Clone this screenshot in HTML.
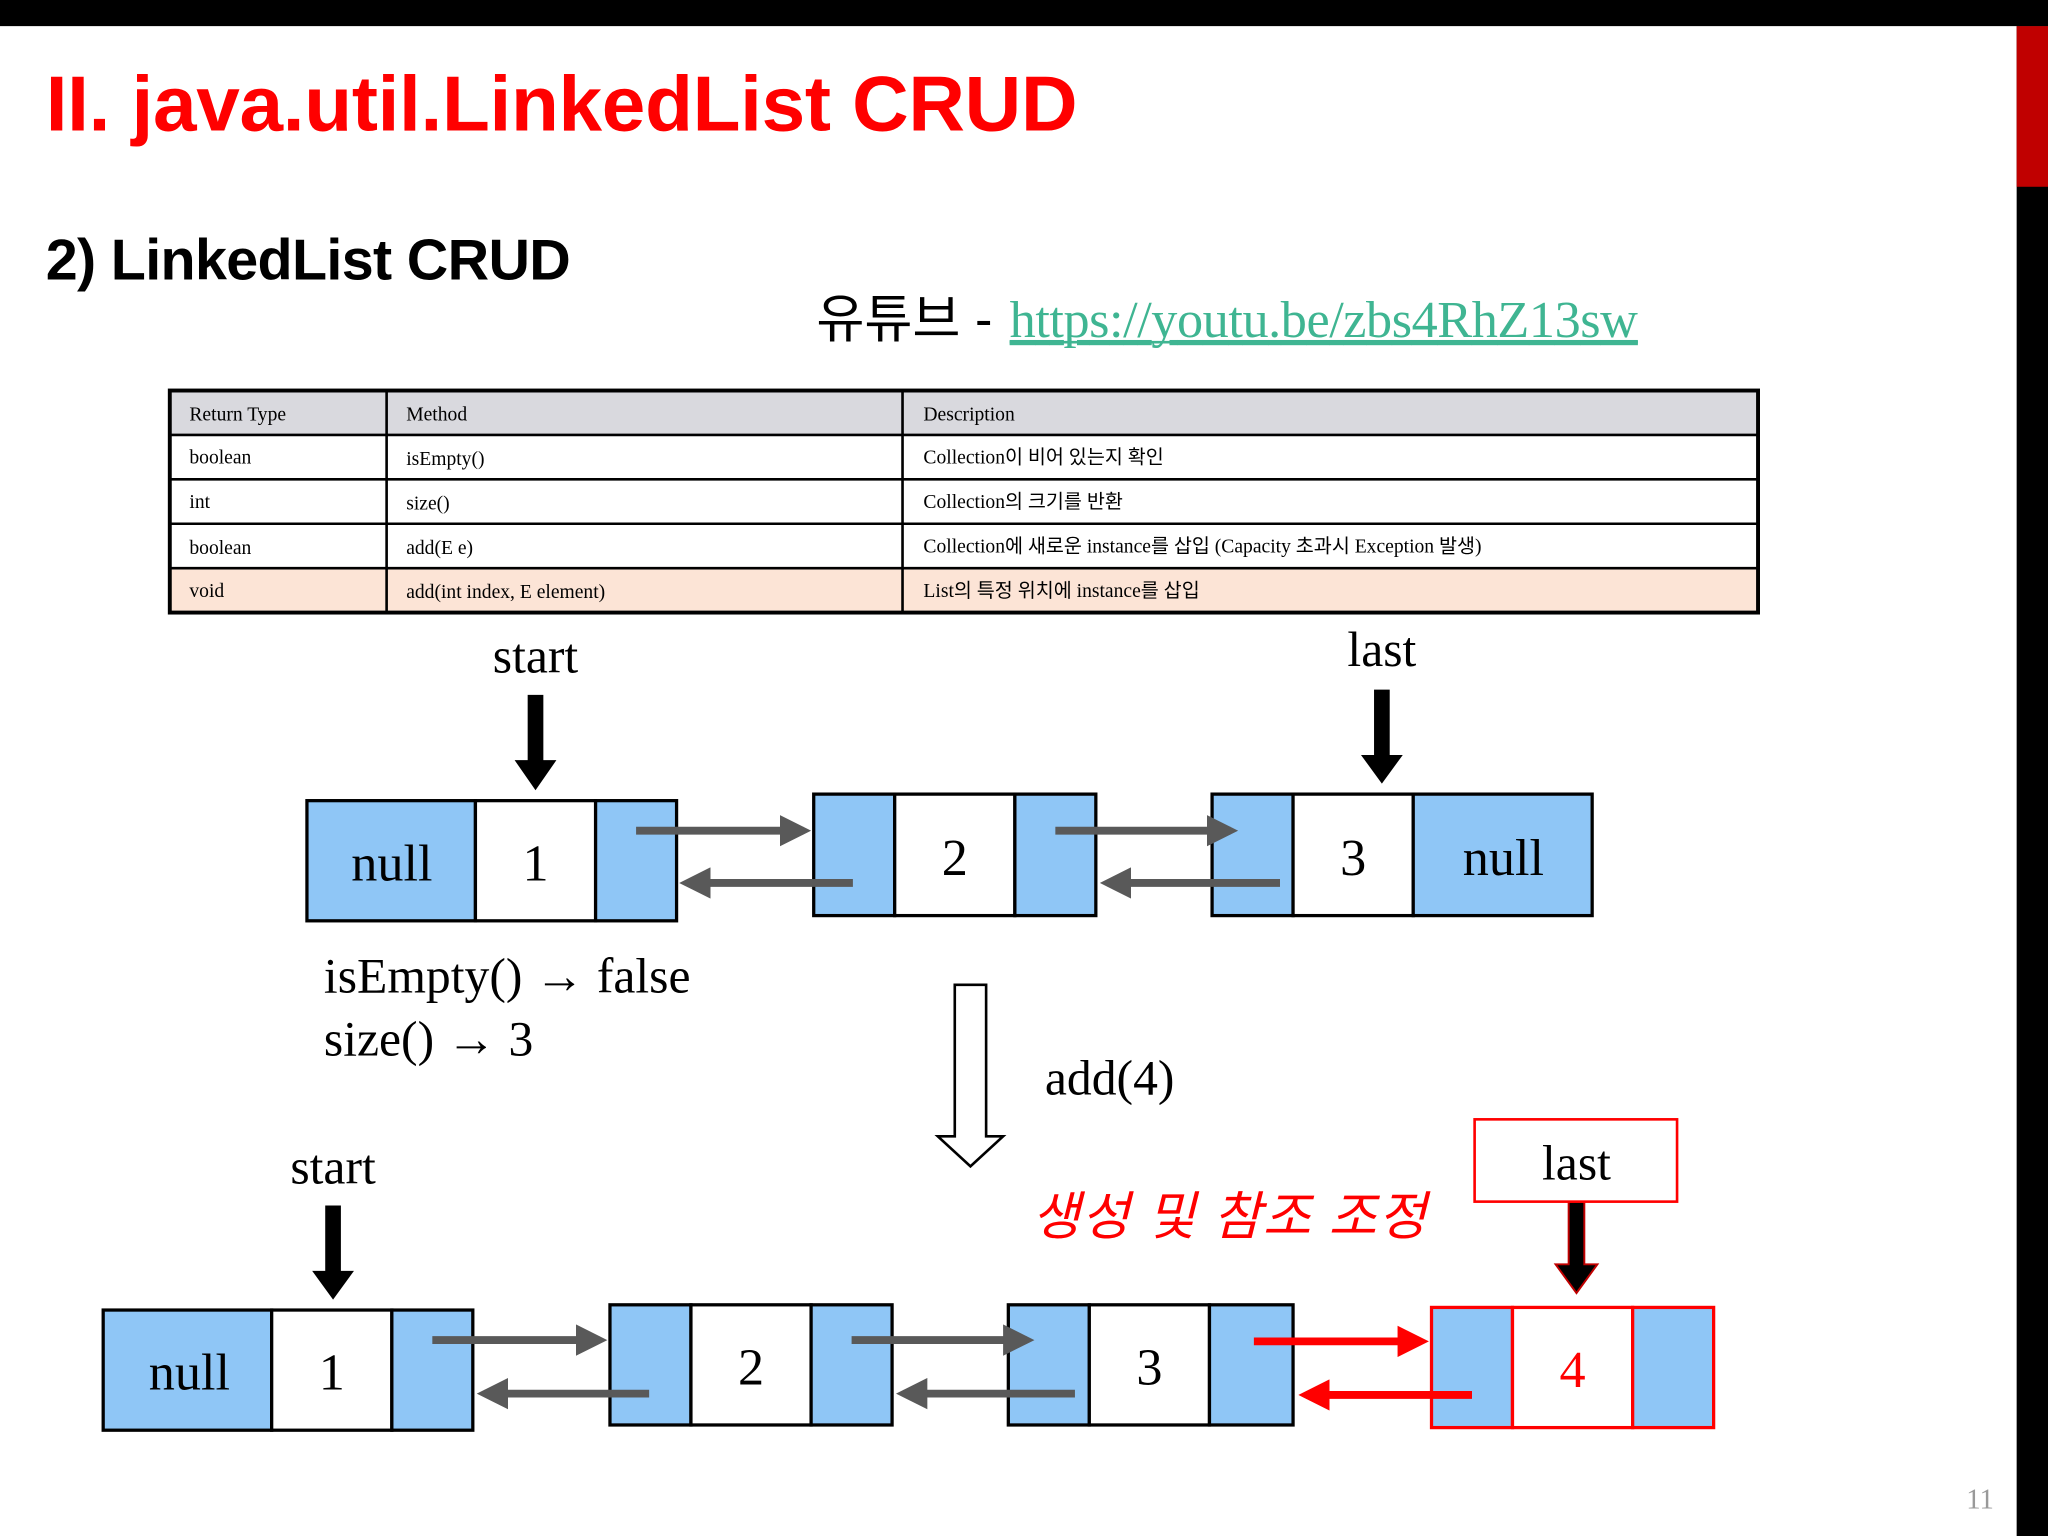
<!DOCTYPE html>
<html><head><meta charset="utf-8"><style>html,body{margin:0;padding:0;background:#fff}svg{display:block}</style></head>
<body>
<svg width="2048" height="1536" viewBox="0 0 1568 1176" xmlns="http://www.w3.org/2000/svg">
<defs>
<marker id="ga" markerWidth="4" markerHeight="4" refX="3" refY="2" orient="auto" markerUnits="strokeWidth"><path d="M0,0 L4,2 L0,4 z" fill="#595959"/></marker>
<marker id="ra" markerWidth="4" markerHeight="4" refX="3" refY="2" orient="auto" markerUnits="strokeWidth"><path d="M0,0 L4,2 L0,4 z" fill="#ff0000"/></marker>
</defs>
<rect width="1568" height="1176" fill="#fff"/>
<rect x="0" y="0" width="1568" height="20" fill="#000"/>
<rect x="1544" y="20" width="24" height="1156" fill="#000"/>
<rect x="1544" y="20" width="24" height="123" fill="#c00000"/>
<text x="35" y="100" font-family="Liberation Sans, sans-serif" font-weight="bold" font-size="60" fill="#ff0000" textLength="790">II. java.util.LinkedList CRUD</text>
<text x="35" y="214" font-family="Liberation Sans, sans-serif" font-weight="bold" font-size="44" fill="#000" textLength="402">2)  LinkedList CRUD</text>
<text x="625" y="258" font-family="Liberation Sans, 'Noto Sans CJK KR', sans-serif" font-size="40" fill="#000">유튜브 -</text>
<text x="773" y="258" font-family="Liberation Serif, serif" font-size="40" fill="#3fb592" text-decoration="underline" textLength="481">https://youtu.be/zbs4RhZ13sw</text>
<line x1="773" y1="262" x2="1254" y2="262" stroke="#3fb592" stroke-width="2"/>
<!-- table -->
<rect x="130" y="299" width="1216" height="34" fill="#d9d9de"/>
<rect x="130" y="435" width="1216" height="34" fill="#fce4d6"/>
<g stroke="#000" stroke-width="2" fill="none">
<rect x="130" y="299" width="1216" height="170" stroke-width="3"/>
<line x1="130" y1="333" x2="1346" y2="333"/><line x1="130" y1="367" x2="1346" y2="367"/>
<line x1="130" y1="401" x2="1346" y2="401"/><line x1="130" y1="435" x2="1346" y2="435"/>
<line x1="296" y1="299" x2="296" y2="469"/><line x1="691" y1="299" x2="691" y2="469"/>
</g>
<g font-family="Liberation Serif, 'Noto Sans CJK KR', serif" font-size="15" fill="#000">
<text x="145" y="322">Return Type</text><text x="311" y="322">Method</text><text x="707" y="322">Description</text>
<text x="145" y="355">boolean</text><text x="311" y="356">isEmpty()</text><text x="707" y="355">Collection이 비어 있는지 확인</text>
<text x="145" y="389">int</text><text x="311" y="390">size()</text><text x="707" y="389">Collection의 크기를 반환</text>
<text x="145" y="424">boolean</text><text x="311" y="424">add(E e)</text><text x="707" y="423">Collection에 새로운 instance를 삽입 (Capacity 초과시 Exception 발생)</text>
<text x="145" y="457">void</text><text x="311" y="458">add(int index, E element)</text><text x="707" y="457">List의 특정 위치에 instance를 삽입</text>
</g>
<g font-family="Liberation Serif, serif" font-size="38" fill="#000">
<text x="410" y="515" text-anchor="middle">start</text>
<text x="1058" y="510" text-anchor="middle">last</text>
<text x="248" y="760">isEmpty() → false</text>
<text x="248" y="808">size() → 3</text>
<text x="800" y="838">add(4)</text>
<text x="255" y="906" text-anchor="middle">start</text>
</g>
<!-- pointer arrows -->
<path d="M404,532 h12 v50 h10 l-16,23 l-16,-23 h10 z" fill="#000"/>
<path d="M1052,528 h12 v50 h10 l-16,22 l-16,-22 h10 z" fill="#000"/>
<path d="M249,923 h12 v50 h10 l-16,22 l-16,-22 h10 z" fill="#000"/>
<path d="M1201,920 h12 v48 h10 l-16,22 l-16,-22 h10 z" fill="#000" stroke="#c00000" stroke-width="1.5"/>
<!-- top nodes -->
<g stroke="#000" stroke-width="2.5">
<rect x="235" y="613" width="129" height="92" fill="#8fc6f6"/><rect x="364" y="613" width="92" height="92" fill="#fff"/><rect x="456" y="613" width="62" height="92" fill="#8fc6f6"/>
<rect x="623" y="608" width="62" height="93" fill="#8fc6f6"/><rect x="685" y="608" width="92" height="93" fill="#fff"/><rect x="777" y="608" width="62" height="93" fill="#8fc6f6"/>
<rect x="928" y="608" width="62" height="93" fill="#8fc6f6"/><rect x="990" y="608" width="92" height="93" fill="#fff"/><rect x="1082" y="608" width="137" height="93" fill="#8fc6f6"/>
</g>
<g font-family="Liberation Serif, serif" font-size="40" fill="#000" text-anchor="middle">
<text x="300" y="674">null</text><text x="410" y="674">1</text><text x="731" y="670">2</text><text x="1036" y="670">3</text><text x="1151" y="670">null</text>
</g>
<g stroke="#595959" stroke-width="6">
<line x1="487" y1="636" x2="615" y2="636" marker-end="url(#ga)"/>
<line x1="653" y1="676" x2="526" y2="676" marker-end="url(#ga)"/>
<line x1="808" y1="636" x2="942" y2="636" marker-end="url(#ga)"/>
<line x1="980" y1="676" x2="848" y2="676" marker-end="url(#ga)"/>
</g>
<!-- hollow down arrow -->
<path d="M731,754 h24 v116 h13 l-25,23 l-25,-23 h13 z" fill="#fff" stroke="#000" stroke-width="2"/>
<!-- bottom nodes -->
<g stroke="#000" stroke-width="2.5">
<rect x="79" y="1003" width="129" height="92" fill="#8fc6f6"/><rect x="208" y="1003" width="92" height="92" fill="#fff"/><rect x="300" y="1003" width="62" height="92" fill="#8fc6f6"/>
<rect x="467" y="999" width="62" height="92" fill="#8fc6f6"/><rect x="529" y="999" width="92" height="92" fill="#fff"/><rect x="621" y="999" width="62" height="92" fill="#8fc6f6"/>
<rect x="772" y="999" width="62" height="92" fill="#8fc6f6"/><rect x="834" y="999" width="92" height="92" fill="#fff"/><rect x="926" y="999" width="64" height="92" fill="#8fc6f6"/>
</g>
<g stroke="#ff0000" stroke-width="2.5">
<rect x="1096" y="1001" width="62" height="92" fill="#8fc6f6"/><rect x="1158" y="1001" width="92" height="92" fill="#fff"/><rect x="1250" y="1001" width="62" height="92" fill="#8fc6f6"/>
</g>
<g font-family="Liberation Serif, serif" font-size="40" fill="#000" text-anchor="middle">
<text x="145" y="1064">null</text><text x="254" y="1064">1</text><text x="575" y="1060">2</text><text x="880" y="1060">3</text><text x="1204" y="1062" fill="#ff0000">4</text>
</g>
<g stroke="#595959" stroke-width="6">
<line x1="331" y1="1026" x2="459" y2="1026" marker-end="url(#ga)"/>
<line x1="497" y1="1067" x2="371" y2="1067" marker-end="url(#ga)"/>
<line x1="652" y1="1026" x2="786" y2="1026" marker-end="url(#ga)"/>
<line x1="823" y1="1067" x2="692" y2="1067" marker-end="url(#ga)"/>
</g>
<g stroke="#ff0000" stroke-width="6">
<line x1="960" y1="1027" x2="1088" y2="1027" marker-end="url(#ra)"/>
<line x1="1127" y1="1068" x2="1000" y2="1068" marker-end="url(#ra)"/>
</g>
<rect x="1129" y="857" width="155" height="63" fill="#fff" stroke="#ff0000" stroke-width="2"/>
<text x="1207" y="903" text-anchor="middle" font-family="Liberation Serif, serif" font-size="38" fill="#000">last</text>
<text x="790" y="945" font-family="Liberation Sans, 'Noto Sans CJK KR', sans-serif" font-size="40" font-style="italic" fill="#ff0000" textLength="302">생성 및 참조 조정</text>
<text x="1516" y="1155" text-anchor="middle" font-family="Liberation Serif, serif" font-size="22" fill="#999">11</text>
</svg>
</body></html>
